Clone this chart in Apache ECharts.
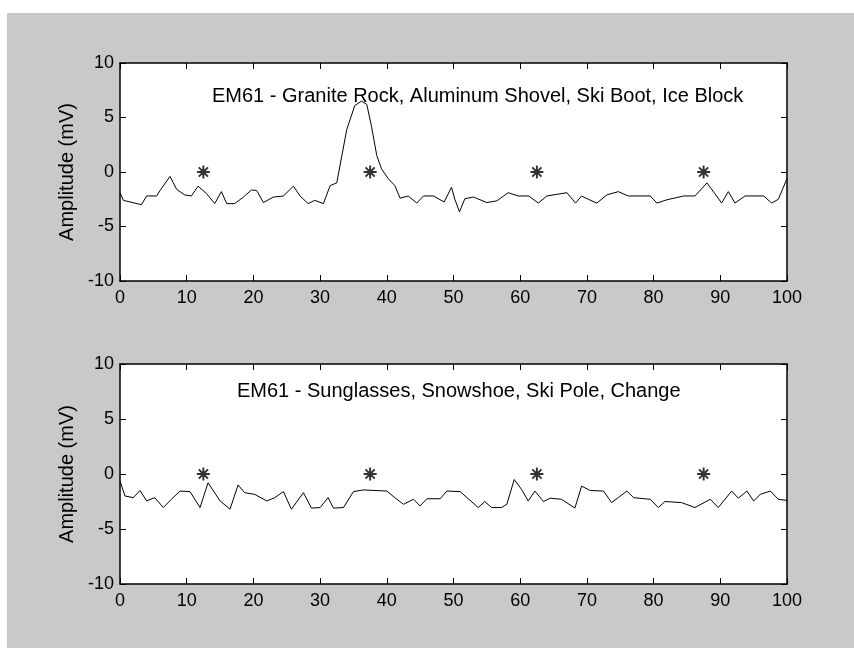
<!DOCTYPE html>
<html>
<head>
<meta charset="utf-8">
<script src="https://cdn.jsdelivr.net/npm/echarts@6/dist/echarts.min.js"></script>
<style>
  html, body { margin: 0; padding: 0; background: #fff; }
  #chart { width: 854px; height: 648px; }
</style>
</head>
<body>
<div id="chart"></div>
<script>
// top panel: Granite Rock, Aluminum Shovel, Ski Boot, Ice Block
const topX = [0, 0.5, 3.2, 4, 5.5, 6, 7.5, 8.5, 9.7, 10.7, 11.7, 13, 14.2, 15.2, 16, 17.2, 18.5, 19.7, 20.5, 21.5,
  23, 24.5, 26, 27, 28.2, 29.2, 30.5, 31.5, 32.5, 33.2, 34, 35.2, 36.2, 37, 37.7, 38.5, 39.2, 40.2, 41.2, 42,
  43.2, 44.5, 45.5, 47, 48.6, 49.7, 50.2, 50.9, 51.7, 53, 55, 56.5, 58.2, 59.7, 61.3, 62.7, 64, 67, 68.3, 69.2,
  70.2, 71.5, 73, 74.7, 76.2, 79.5, 80.5, 82, 84.5, 86.2, 88, 89.2, 90.2, 91.2, 92.2, 93.7, 96.5, 97.7, 98.7, 100];
const topY = [-1.9, -2.6, -3.0, -2.2, -2.2, -1.7, -0.4, -1.6, -2.1, -2.2, -1.3, -2.0, -2.9, -1.8, -2.9, -2.9, -2.3, -1.65, -1.7, -2.8,
  -2.3, -2.2, -1.3, -2.2, -2.9, -2.6, -2.9, -1.25, -1.0, 1.3, 3.9, 6.1, 6.5, 6.2, 4.2, 1.5, 0.3, -0.6, -1.25, -2.4,
  -2.2, -2.85, -2.2, -2.2, -2.75, -1.4, -2.5, -3.65, -2.45, -2.3, -2.8, -2.65, -1.9, -2.2, -2.2, -2.85, -2.2, -1.9, -2.85, -2.2,
  -2.5, -2.85, -2.1, -1.8, -2.2, -2.2, -2.85, -2.55, -2.2, -2.2, -1.0, -2.0, -2.85, -1.8, -2.85, -2.2, -2.2, -2.85, -2.5, -0.6];

// bottom panel: Sunglasses, Snowshoe, Ski Pole, Change
const botX = [0, 0.75, 2, 3, 4, 5.2, 6.5, 7.7, 9, 10.5, 12, 13.2, 15, 16.5, 17.7, 18.7, 20.2, 22, 23.2, 24.5,
  25.7, 27.5, 28.7, 30, 31.2, 32, 33.5, 35, 36.5, 40, 41.2, 42.5, 44, 45, 46, 48, 49, 51, 53.7, 54.7,
  55.7, 57.2, 58, 59.1, 60.2, 61.2, 62.2, 63.5, 64.5, 66.2, 68.2, 69.2, 70.5, 72.5, 73.7, 74.7, 76, 77, 79.5, 80.7,
  81.7, 84.2, 86.2, 88.5, 89.7, 91.7, 92.7, 94, 95, 96, 97.5, 98.7, 100];
const botY = [-0.65, -2.0, -2.15, -1.5, -2.45, -2.15, -3.05, -2.3, -1.55, -1.6, -3.05, -0.8, -2.45, -3.2, -1.0, -1.7, -1.85, -2.45, -2.15, -1.6,
  -3.2, -1.7, -3.1, -3.05, -2.15, -3.1, -3.05, -1.6, -1.45, -1.55, -2.15, -2.75, -2.3, -2.9, -2.25, -2.25, -1.55, -1.6, -3.05, -2.5,
  -3.05, -3.05, -2.75, -0.5, -1.4, -2.45, -1.55, -2.5, -2.2, -2.3, -3.1, -1.1, -1.5, -1.55, -2.6, -2.15, -1.55, -2.15, -2.3, -3.05,
  -2.5, -2.6, -3.05, -2.3, -3.05, -1.55, -2.2, -1.55, -2.45, -1.85, -1.55, -2.3, -2.4];

// target markers
const starX = [12.5, 37.5, 62.5, 87.5];
const starY = [0, 0, 0, 0];

const titles = [
  'EM61 - Granite Rock, Aluminum Shovel, Ski Boot, Ice Block',
  'EM61 - Sunglasses, Snowshoe, Ski Pole, Change'
];
const yName = 'Amplitude (mV)';

const font = '"Liberation Sans", Arial, sans-serif';
const zip = (xs, ys) => xs.map((x, i) => [x, ys[i]]);

const star = 'path://M-0.9,-6 L0.9,-6 L0.9,6 L-0.9,6 Z M-6,-0.9 L6,-0.9 L6,0.9 L-6,0.9 Z ' +
  'M-4.9,-3.6 L-3.6,-4.9 L4.9,3.6 L3.6,4.9 Z M3.6,-4.9 L4.9,-3.6 L-3.6,4.9 L-4.9,3.6 Z ' +
  'M-2.5,-2.5 L2.5,-2.5 L2.5,2.5 L-2.5,2.5 Z';

const lineStyle = { color: '#000', width: 1 };
const tickIn = { show: true, inside: true, length: 6, lineStyle: { color: '#000' } };
const frame = { onZero: false, lineStyle: { color: '#000', width: 1.5 } };

function xAxes(grid) {
  return [
    {
      gridIndex: grid, type: 'value', position: 'bottom', min: 0, max: 100, interval: 10,
      axisLine: frame, axisTick: tickIn, splitLine: { show: false },
      axisLabel: { color: '#000', fontFamily: font, fontSize: 18, margin: 8 }
    },
    {
      gridIndex: grid, type: 'value', position: 'top', min: 0, max: 100, interval: 10,
      axisLine: frame, axisTick: tickIn, splitLine: { show: false }, axisLabel: { show: false }
    }
  ];
}

function yAxes(grid) {
  return [
    {
      gridIndex: grid, type: 'value', position: 'left', min: -10, max: 10, interval: 5,
      name: yName, nameLocation: 'middle', nameGap: 39,
      nameTextStyle: { color: '#000', fontFamily: font, fontSize: 20 },
      axisLine: frame, axisTick: tickIn, splitLine: { show: false },
      axisLabel: { color: '#000', fontFamily: font, fontSize: 18, margin: 6 }
    },
    {
      gridIndex: grid, type: 'value', position: 'right', min: -10, max: 10, interval: 5,
      axisLine: frame, axisTick: tickIn, splitLine: { show: false }, axisLabel: { show: false }
    }
  ];
}

const chart = echarts.init(document.getElementById('chart'));
chart.setOption({
  backgroundColor: '#fff',
  animation: false,
  graphic: [
    { type: 'rect', z: -10, shape: { x: 7, y: 13, width: 847, height: 635 }, style: { fill: '#c9c9c9' } }
  ],
  title: [
    { text: titles[0], left: 212, top: 86, padding: 0, textStyle: { color: '#000', fontFamily: font, fontSize: 20, fontWeight: 'normal' } },
    { text: titles[1], left: 237, top: 381, padding: 0, textStyle: { color: '#000', fontFamily: font, fontSize: 20, fontWeight: 'normal' } }
  ],
  grid: [
    { left: 120, top: 63, width: 667, height: 218, show: true, backgroundColor: '#fff', borderWidth: 0 },
    { left: 120, top: 364, width: 667, height: 220, show: true, backgroundColor: '#fff', borderWidth: 0 }
  ],
  xAxis: [...xAxes(0), ...xAxes(1)],
  yAxis: [...yAxes(0), ...yAxes(1)],
  series: [
    { type: 'line', xAxisIndex: 0, yAxisIndex: 0, data: zip(topX, topY), showSymbol: false, lineStyle },
    { type: 'scatter', xAxisIndex: 0, yAxisIndex: 0, data: zip(starX, starY), symbol: star, symbolSize: 13, itemStyle: { color: '#000' } },
    { type: 'line', xAxisIndex: 2, yAxisIndex: 2, data: zip(botX, botY), showSymbol: false, lineStyle },
    { type: 'scatter', xAxisIndex: 2, yAxisIndex: 2, data: zip(starX, starY), symbol: star, symbolSize: 13, itemStyle: { color: '#000' } }
  ]
});
</script>
</body>
</html>
